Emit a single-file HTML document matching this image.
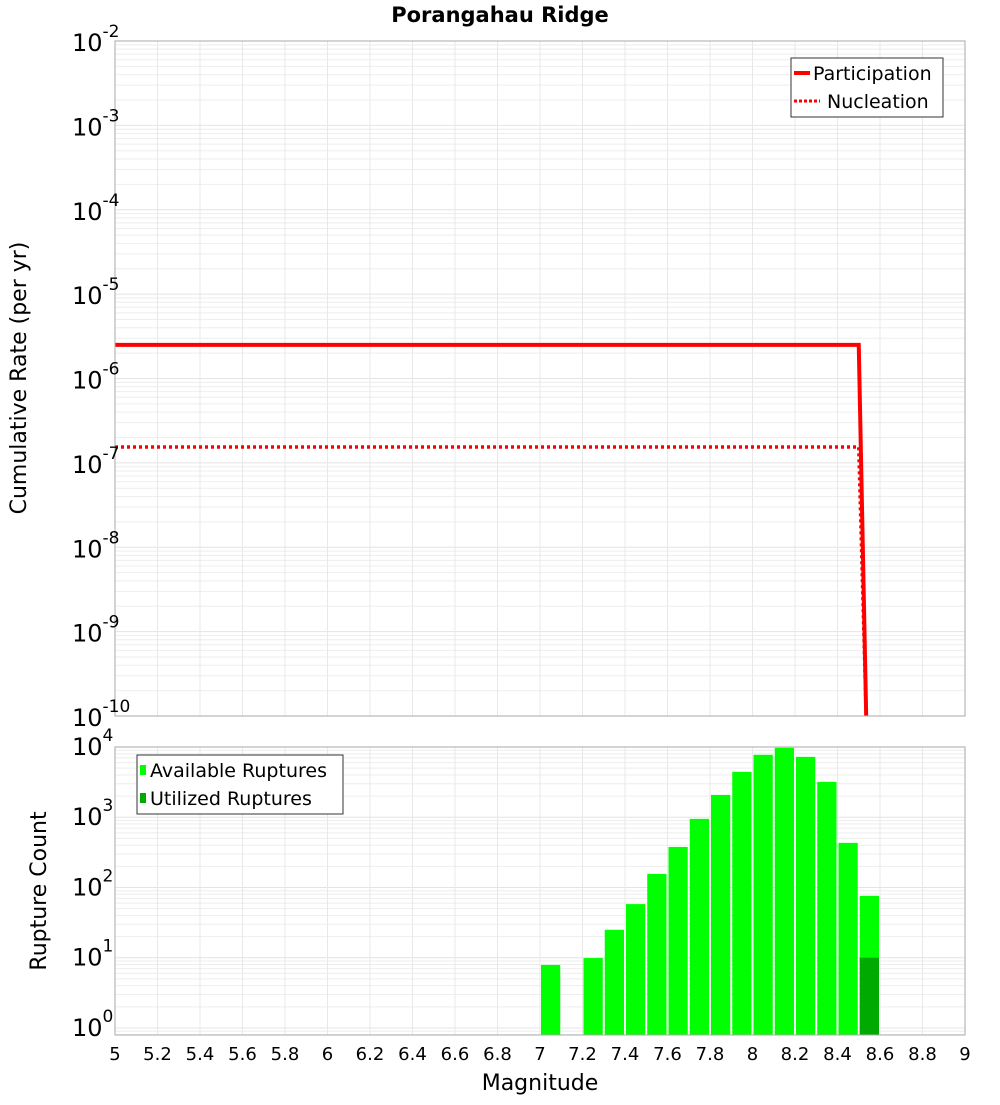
<!DOCTYPE html>
<html><head><meta charset="utf-8"><style>
body{margin:0;background:#fff;width:1000px;height:1100px;overflow:hidden}
svg text{font-family:"DejaVu Sans","Liberation Sans",sans-serif}
</style></head><body>
<svg id="c" width="1000" height="1100" xmlns="http://www.w3.org/2000/svg"></svg>
<script>
// Top chart data
const rateMags = [5.0, 8.5, 8.535];
const participationRates = [2.5e-6, 2.5e-6, 1e-10];
const nucleationRates = [1.54e-7, 1.54e-7, 1e-10];
const rateTickExps = [-2,-3,-4,-5,-6,-7,-8,-9,-10];
// Bottom chart data
const binMags = [7.0,7.2,7.3,7.4,7.5,7.6,7.7,7.8,7.9,8.0,8.1,8.2,8.3,8.4,8.5];
const availableCounts = [7.9,9.9,25,58,156,378,948,2080,4430,7740,9730,7240,3190,432,76];
const utilizedCounts = [0,0,0,0,0,0,0,0,0,0,0,0,0,0,10];
const countTickExps = [0,1,2,3,4];
const xTickLabels = ["5","5.2","5.4","5.6","5.8","6","6.2","6.4","6.6","6.8","7","7.2","7.4","7.6","7.8","8","8.2","8.4","8.6","8.8","9"];

const NS="http://www.w3.org/2000/svg";
const svg=document.getElementById('c');
function mk(tag,attrs,parent){const e=document.createElementNS(NS,tag);for(const k in attrs)e.setAttribute(k,attrs[k]);(parent||svg).appendChild(e);return e;}
const X0=115,X1=965;
const xs=m=>X0+(m-5)/(9-5)*(X1-X0);
const T0=41,T1=716, tMin=-10,tMax=-2;
const yTop=v=>T1-(Math.log10(v)-tMin)/(tMax-tMin)*(T1-T0);
const B0=747,B1=1035,bMin=-0.1,bMax=4.0;
const yBot=v=>B1-(Math.log10(v)-bMin)/(bMax-bMin)*(B1-B0);

function grid(y0,y1,ys,lo,hi){
  const g=mk('g',{});
  
  
  for(let d=Math.floor(lo);d<=Math.ceil(hi);d++){
    for(let k=1;k<10;k++){const lv=d+Math.log10(k);if(lv<lo||lv>hi)continue;const y=ys(Math.pow(10,lv));
      mk('line',{x1:X0,x2:X1,y1:y,y2:y,stroke:k==1?'#e4e4e4':'#eeeeee','stroke-width':1},g);}
  }
  for(let i=0;i<=20;i++){const x=xs(5+i*0.2);mk('line',{x1:x,x2:x,y1:y0,y2:y1,stroke:'#e8e8e8','stroke-width':1},g);}
}
grid(T0,T1,yTop,tMin,tMax);
grid(B0,B1,yBot,bMin,bMax);

// title
const title=mk('text',{x:500,y:22,'text-anchor':'middle','font-size':21,'font-weight':'bold'});
title.textContent='Porangahau Ridge';



// top lines
function poly(mags,vals,attrs,name){
  const pts=mags.map((m,i)=>xs(m)+','+yTop(vals[i])).join(' ');
  const p=mk('polyline',Object.assign({points:pts,fill:'none','clip-path':'url(#clipTop)'},attrs));
  
  
}
const defs=mk('defs',{});
const cp=mk('clipPath',{id:'clipTop'},defs);mk('rect',{x:X0,y:T0,width:X1-X0,height:T1-T0+2},cp);
poly(rateMags,nucleationRates,{stroke:'#ff0000','stroke-width':3.5,'stroke-dasharray':'3,3'},'nucleation-line');
poly(rateMags,participationRates,{stroke:'#ff0000','stroke-width':4},'participation-line');

// bars
const bw=(X1-X0)/40;
binMags.forEach((m,i)=>{
  const x=xs(m)+1, w=bw-2;
  const r=mk('rect',{x:x,y:yBot(availableCounts[i]),width:w,height:B1-yBot(availableCounts[i]),fill:'#00ff00'});
  
  
  if(utilizedCounts[i]>0){
    const u=mk('rect',{x:x,y:yBot(utilizedCounts[i]),width:w,height:B1-yBot(utilizedCounts[i]),fill:'#00aa00'});
    
    
  }
});

// frames
mk('rect',{x:X0,y:T0,width:X1-X0,height:T1-T0,fill:'none',stroke:'#aaa'});
mk('rect',{x:X0,y:B0,width:X1-X0,height:B1-B0,fill:'none',stroke:'#aaa'});

// y tick labels
function ylab(y,e,name){
  const t=mk('text',{x:72,y:y+10,'font-size':24});
  
  
  t.textContent='10';
  const s=mk('tspan',{dy:-14,'font-size':17},t);s.textContent=String(e);
}
rateTickExps.forEach(e=>ylab(yTop(Math.pow(10,e)),e,'y-tick-label'));
countTickExps.forEach(e=>ylab(yBot(Math.pow(10,e))-2,e,'count-tick-label'));

// x ticks
xTickLabels.forEach((l,i)=>{
  const t=mk('text',{x:xs(5+i*0.2),y:1060,'text-anchor':'middle','font-size':18});
  
  
  t.textContent=l;
});
const xt=mk('text',{x:540,y:1090,'text-anchor':'middle','font-size':22});
xt.textContent='Magnitude';
const yt=mk('text',{x:0,y:0,'text-anchor':'middle','font-size':22,transform:'translate(26,378) rotate(-90)'});
yt.textContent='Cumulative Rate (per yr)';
const yt2=mk('text',{x:0,y:0,'text-anchor':'middle','font-size':22,transform:'translate(46,891) rotate(-90)'});
yt2.textContent='Rupture Count';

// legends
const lg=mk('g',{});
mk('rect',{x:791,y:58,width:152,height:59,fill:'#fff',stroke:'#333'},lg);
mk('line',{x1:794,x2:810,y1:73,y2:73,stroke:'#f00','stroke-width':4},lg);
mk('line',{x1:794,x2:820,y1:101,y2:101,stroke:'#f00','stroke-width':3,'stroke-dasharray':'3,2'},lg);
let t=mk('text',{x:813,y:80,'font-size':19},lg);t.textContent='Participation';
t=mk('text',{x:827,y:108,'font-size':19},lg);t.textContent='Nucleation';

const lg2=mk('g',{});
mk('rect',{x:137,y:755,width:206,height:59,fill:'#fff',stroke:'#333'},lg2);
mk('rect',{x:140,y:765,width:6,height:10,fill:'#00ff00'},lg2);
mk('rect',{x:140,y:793,width:6,height:10,fill:'#00aa00'},lg2);
t=mk('text',{x:150,y:777,'font-size':19},lg2);t.textContent='Available Ruptures';
t=mk('text',{x:150,y:805,'font-size':19},lg2);t.textContent='Utilized Ruptures';
</script>
</body></html>
